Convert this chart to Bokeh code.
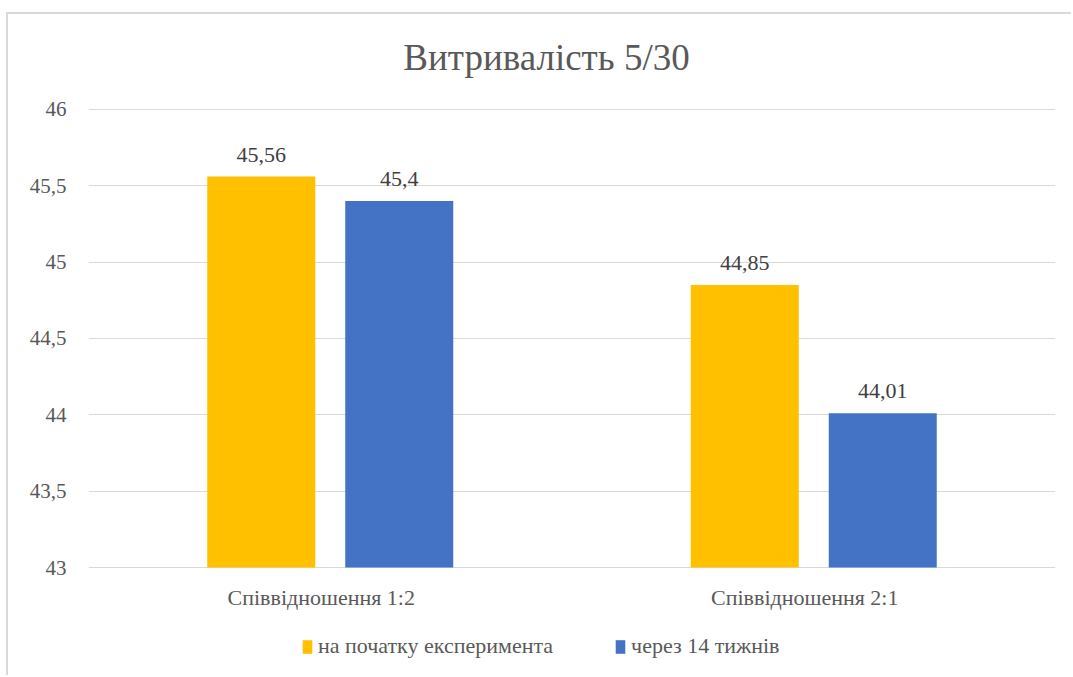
from bokeh.plotting import figure
from bokeh.models import (ColumnDataSource, FactorRange, Range1d, FixedTicker,
                          CustomJSTickFormatter, Legend, LegendItem, Label)
from bokeh.transform import dodge
from bokeh.core.properties import value
from bokeh.embed import file_html
from bokeh.resources import INLINE

title_text = "Витривалість 5/30"
categories = ["Співвідношення 1:2", "Співвідношення 2:1"]
series_names = ["на початку експеримента", "через 14 тижнів"]
start_vals = [45.56, 44.85]
after_vals = [45.40, 44.01]
start_labels = ["45,56", "44,85"]
after_labels = ["45,4", "44,01"]
y_ticks = [43, 43.5, 44, 44.5, 45, 45.5, 46]
y_base = 43

FONT = "Liberation Serif"
TXT = "#595959"

src = ColumnDataSource(dict(cat=categories, a=start_vals, b=after_vals,
                            la=start_labels, lb=after_labels,
                            base=[y_base] * len(categories)))

p = figure(width=1065, height=663, x_range=FactorRange(*categories),
           y_range=Range1d(42.280, 46.6215), output_backend="svg", toolbar_location=None,
           title=None, min_border_left=80, min_border_right=18, min_border_top=0,
           min_border_bottom=0)
p.margin = (12, 0, 0, 6)
p.styles = {"border-top": "2px solid #d9d9d9", "border-left": "2px solid #d9d9d9"}
p.outline_line_color = None
p.background_fill_color = "white"
p.border_fill_color = "white"

off = 0.1427
w = 0.2234
r1 = p.vbar(x=dodge("cat", -off, range=p.x_range), top="a", bottom=y_base, width=w,
            source=src, fill_color="#FFC000", line_color=None)
r2 = p.vbar(x=dodge("cat", off, range=p.x_range), top="b", bottom=y_base, width=w,
            source=src, fill_color="#4472C4", line_color=None)

for col, lab, o in (("a", "la", -off), ("b", "lb", off)):
    p.text(x=dodge("cat", o, range=p.x_range), y=col, text=lab, source=src,
           text_align="center", text_baseline="bottom", y_offset=-15,
           text_font=value(FONT), text_font_size="22px", text_color="#404040")

# category labels (drawn inside the extended frame)
p.text(x="cat", y="base", text="cat", source=src, text_align="center",
       text_baseline="middle", y_offset=30, x_offset=-9, text_font=value(FONT),
       text_font_size="22px", text_color=TXT)

# title (inside the extended frame)
p.add_layout(Label(x=458, y=620, x_units="screen", y_units="screen", text=title_text,
                   text_align="center", text_baseline="middle", text_font=FONT,
                   text_font_size="37px", text_color=TXT))

# axes
p.xaxis.visible = False
p.yaxis.ticker = FixedTicker(ticks=y_ticks)
p.yaxis.formatter = CustomJSTickFormatter(code="return tick.toString().replace('.', ',');")
ax = p.yaxis[0]
ax.axis_line_color = None
ax.major_tick_line_color = None
ax.minor_tick_line_color = None
ax.major_tick_out = 0
ax.major_tick_in = 0
ax.minor_tick_out = 0
ax.major_label_text_font = FONT
ax.major_label_text_font_size = "21px"
ax.major_label_text_color = TXT
ax.major_label_standoff = 22
p.xgrid.grid_line_color = None
p.ygrid.ticker = FixedTicker(ticks=y_ticks)
p.ygrid.grid_line_color = "#d9d9d9"
p.ygrid.grid_line_width = 1

legend = Legend(items=[LegendItem(label=series_names[0], renderers=[r1]),
                       LegendItem(label=series_names[1], renderers=[r2])],
                orientation="horizontal", location=(213, 18),
                glyph_width=12, glyph_height=17, label_standoff=5, spacing=61,
                padding=0, margin=0, border_line_color=None,
                background_fill_alpha=0, label_text_font=FONT,
                label_text_font_size="22px", label_text_color=TXT)
p.add_layout(legend, "center")

open("out.html", "w").write(file_html(p, INLINE))
